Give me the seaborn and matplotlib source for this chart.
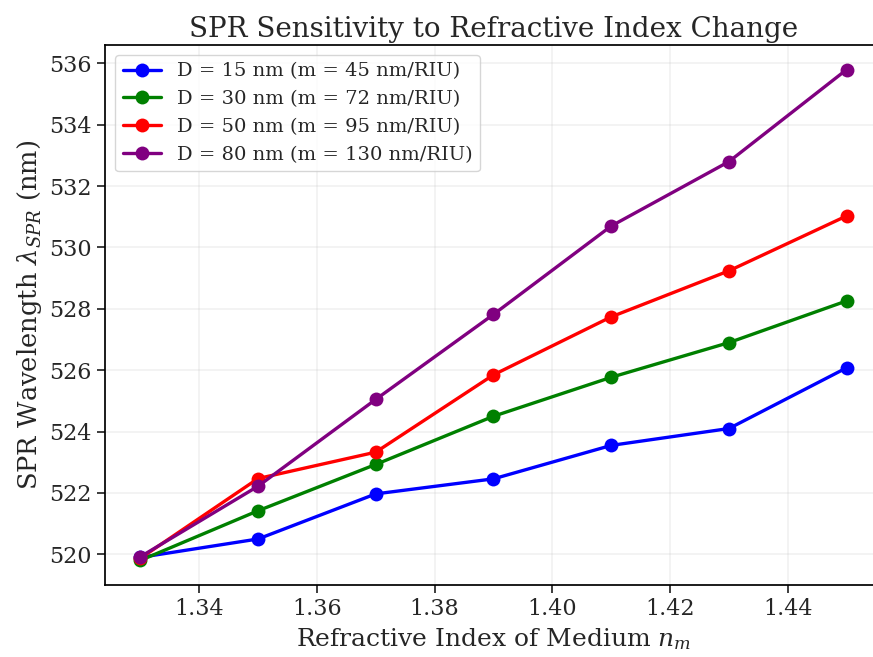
import numpy as np
import pandas as pd
import seaborn as sns
import matplotlib.pyplot as plt

# Indices de refraccion del medio
n_medium = [1.33, 1.35, 1.37, 1.39, 1.41, 1.43, 1.45]

# Longitud de onda SPR (nm) para cada diametro
lam_15 = [519.90, 520.50, 521.97, 522.46, 523.55, 524.10, 526.08]
lam_30 = [519.80, 521.42, 522.93, 524.50, 525.77, 526.90, 528.26]
lam_50 = [519.87, 522.47, 523.33, 525.85, 527.74, 529.24, 531.03]
lam_80 = [519.92, 522.22, 525.05, 527.82, 530.70, 532.80, 535.80]

labels = ["D = 15 nm (m = 45 nm/RIU)", "D = 30 nm (m = 72 nm/RIU)",
          "D = 50 nm (m = 95 nm/RIU)", "D = 80 nm (m = 130 nm/RIU)"]
colors = ["blue", "green", "red", "purple"]

df = pd.DataFrame({
    "n": n_medium * 4,
    "lam": lam_15 + lam_30 + lam_50 + lam_80,
    "serie": [l for l in labels for _ in n_medium],
})

sns.set_style("ticks")
plt.rcParams["font.family"] = ["DejaVu Serif"]
plt.rcParams["mathtext.fontset"] = "dejavuserif"

fig = plt.figure(figsize=(8.73, 6.57), dpi=100)
# el eje se sale un poco por la derecha, como en la imagen original
ax = fig.add_axes([105 / 873, 72 / 657, 777 / 873, 540 / 657])
sns.lineplot(data=df, x="n", y="lam", hue="serie", palette=colors,
             marker="o", markersize=10, markeredgewidth=0, linewidth=2.4, ax=ax)

ax.set_title("SPR Sensitivity to Refractive Index Change", fontsize=20)
ax.set_xlabel("Refractive Index of Medium $n_m$", fontsize=18)
ax.set_ylabel("SPR Wavelength $\\lambda_{SPR}$ (nm)", fontsize=18.5)
ax.tick_params(labelsize=16, width=1.25, length=6)
for s in ax.spines.values():
    s.set_linewidth(1.25)
    s.set_color("black")
ax.grid(True, alpha=0.3, linewidth=1.1)
ax.set_yticks(np.arange(520, 537, 2))
ax.legend(title=None, fontsize=14, loc="upper left")

plt.savefig("out.png", dpi=100)
